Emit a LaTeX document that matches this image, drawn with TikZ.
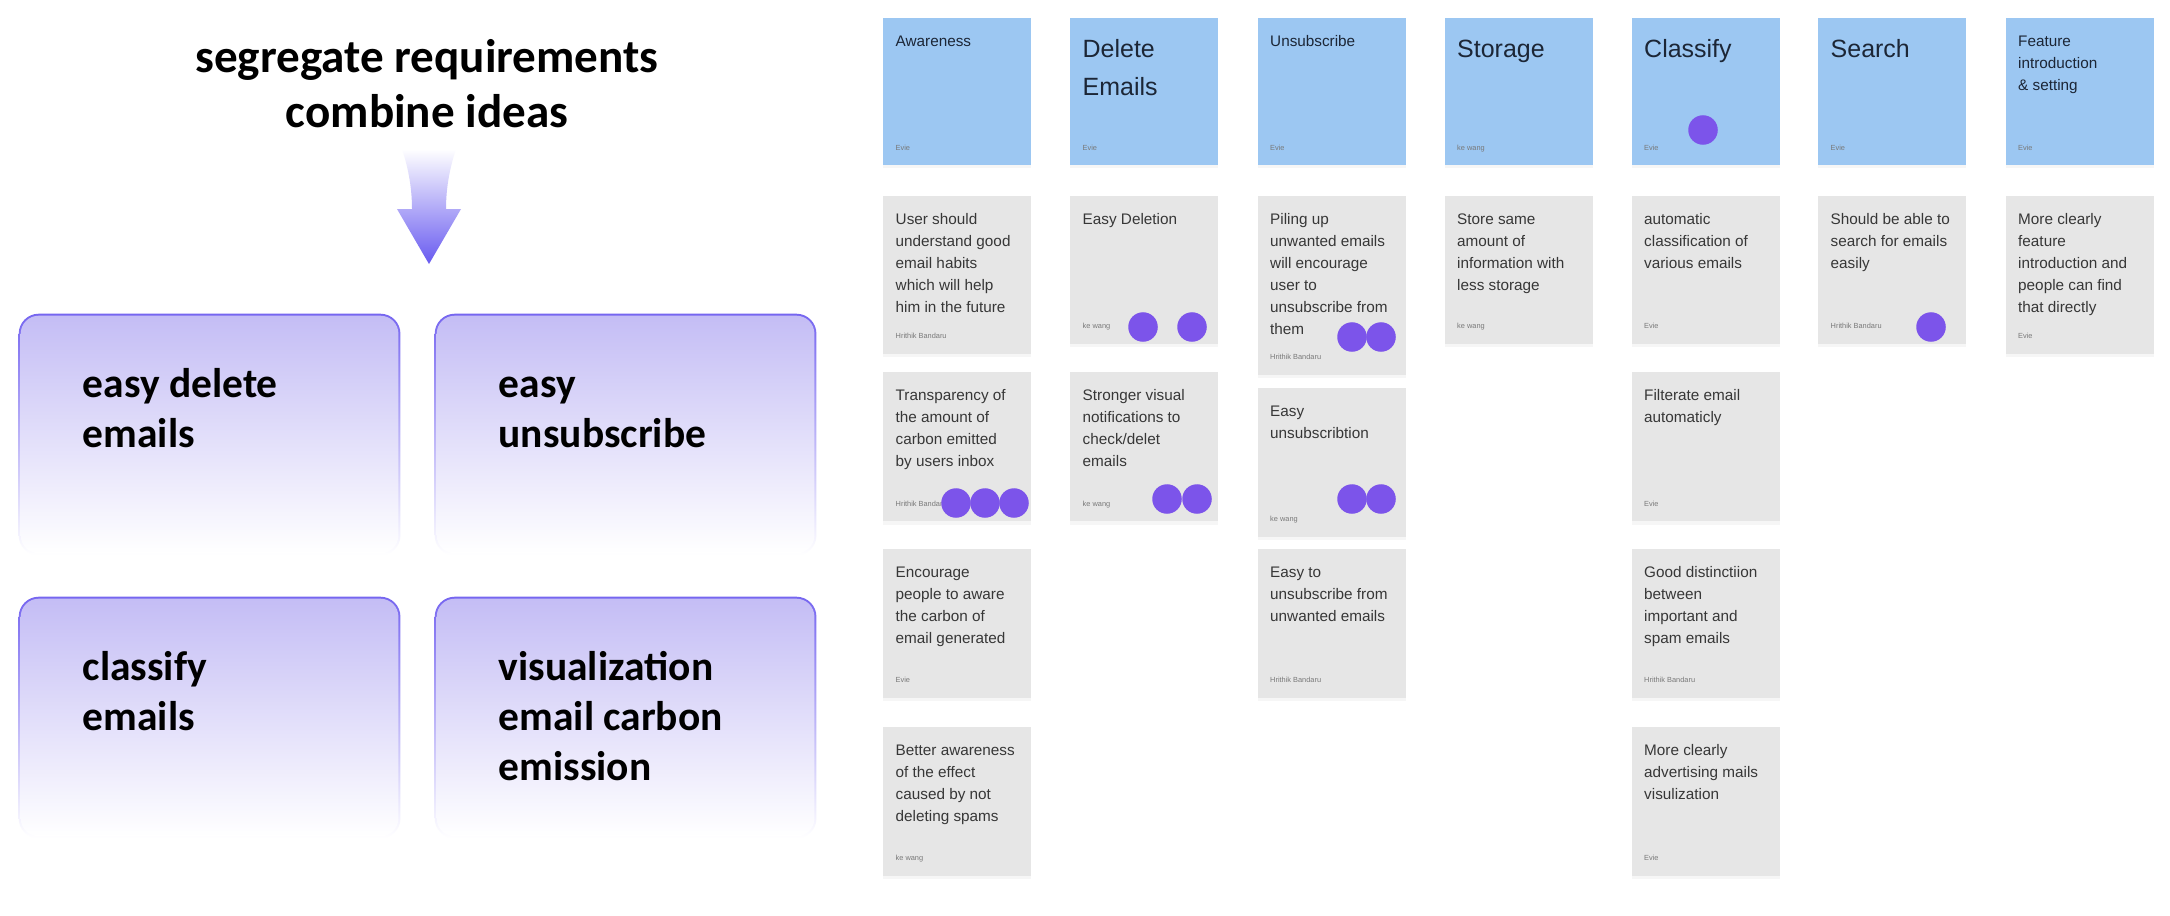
\documentclass[tikz,border=0pt]{standalone}
\usepackage{fontspec}
\setmainfont{Carlito}
\newfontfamily\notefont{Liberation Sans}
\usetikzlibrary{positioning,shadows}

\definecolor{topicblue}{RGB}{156,199,242}
\definecolor{notegray}{RGB}{230,230,230}
\definecolor{votedot}{RGB}{124,84,234}
\definecolor{idealine}{RGB}{118,102,240}
\definecolor{ideatop}{RGB}{196,189,245}
\definecolor{arrowtip}{RGB}{104,90,240}
\definecolor{notetextc}{RGB}{55,55,55}
\definecolor{topictextc}{RGB}{28,38,54}
\definecolor{authorc}{RGB}{120,120,120}

\tikzset{
  note/.style={rectangle, anchor=north west, fill=notegray, minimum width=1.48cm, inner sep=0,
    drop shadow={shadow xshift=0pt, shadow yshift=-1pt, opacity=0.07}},
  topic/.style={note, fill=topicblue, minimum height=1.47cm},
  notetext/.style={anchor=north west, inner sep=0, align=left, text=notetextc,
    font=\notefont\fontsize{4.35}{6.26}\selectfont},
  bigtext/.style={notetext, text=topictextc, font=\notefont\fontsize{7.1}{10.8}\selectfont},
  smalltopic/.style={notetext, text=topictextc},
  author/.style={anchor=base west, inner sep=0, text=authorc, font=\notefont\fontsize{2.1}{2.6}\selectfont},
  dot/.style={circle, fill=votedot, minimum size=0.295cm, inner sep=0},
  ideaframe/.style={rectangle, rounded corners=0.2cm, top color=idealine, bottom color=white,
    minimum width=3.815cm, minimum height=2.415cm, anchor=north west},
  ideafill/.style={rectangle, rounded corners=0.18cm, top color=ideatop, bottom color=white,
    minimum width=3.775cm, minimum height=2.375cm},
  ideatext/.style={anchor=north west, inner sep=0, align=left, font=\bfseries\fontsize{11.8}{14.2}\selectfont},
}

% topic card: name, left, text style, text, author
\newcommand{\topicnote}[5]{%
  \node[topic] (#1) at (#2,17) {};
  \node[#3] (#1t) at ([shift={(12.5,13.6)}]#1.north west) {\strut #4};
  \node[author] (#1a) at ([shift={(12.5,-15)}]#1.south west) {#5};
}
% idea card: name, left, top, height, text, author
\newcommand{\stickynote}[6]{%
  \node[note, minimum height=#4cm] (#1) at (#2,#3) {};
  \node[notetext] (#1t) at ([shift={(12.5,13.6)}]#1.north west) {\strut #5};
  \node[author] (#1a) at ([shift={(12.5,-16)}]#1.south west) {#6};
}
% grouped box: name, left, top, text
\newcommand{\ideabox}[4]{%
  \node[ideaframe] (#1) at (#2,#3) {};
  \node[ideafill] (#1f) at (#1.center) {};
  \node[ideatext] (#1t) at ([shift={(64,49)}]#1.north west) {\strut #4};
}

\begin{document}
\begin{tikzpicture}[x=0.01cm, y=-0.01cm]
  \fill[white] (0,0) rectangle (2170,915);
  \useasboundingbox (0,0) rectangle (2170,915);

  % left half
  \node[font=\bfseries\fontsize{13.4}{15.65}\selectfont, align=center, anchor=north, inner sep=0] (title)
    at (427,33.5) {\strut segregate requirements\\combine ideas};
  \shade[top color=white, bottom color=arrowtip] (402,149) .. controls (409,170) and (412,190) .. (412,209)
    -- (397,209) -- (429,264) -- (461,209) -- (446,209) .. controls (446,190) and (449,170) .. (456,149) -- cycle;

  \ideabox{easydel}{18}{313}{easy delete\\emails}
  \ideabox{easyunsub}{434}{313}{easy\\unsubscribe}
  \ideabox{classify}{18}{596}{classify\\emails}
  \ideabox{visual}{434}{596}{visualization\\email carbon\\emission}

  % topics
  \topicnote{aware}{882.5}{smalltopic}{Awareness}{Evie}
  \topicnote{delete}{1069.5}{bigtext}{Delete\\Emails}{Evie}
  \topicnote{unsub}{1257}{smalltopic}{Unsubscribe}{Evie}
  \topicnote{store}{1444}{bigtext}{Storage}{ke wang}
  \topicnote{class}{1631}{bigtext}{Classify}{Evie}
  \topicnote{search}{1817.5}{bigtext}{Search}{Evie}
  \topicnote{feat}{2005}{smalltopic}{Feature\\introduction\\\& setting}{Evie}

  % notes
  \stickynote{aware1}{882.5}{195}{1.58}{User should\\understand good\\email habits\\which will help\\him in the future}{Hrithik Bandaru}
  \stickynote{aware2}{882.5}{371}{1.495}{Transparency of\\the amount of\\carbon emitted\\by users inbox}{Hrithik Bandaru}
  \stickynote{aware3}{882.5}{548}{1.49}{Encourage\\people to aware\\the carbon of\\email generated}{Evie}
  \stickynote{aware4}{882.5}{726}{1.49}{Better awareness\\of the effect\\caused by not\\deleting spams}{ke wang}
  \stickynote{delete1}{1069.5}{195}{1.48}{Easy Deletion}{ke wang}
  \stickynote{delete2}{1069.5}{371}{1.495}{Stronger visual\\notifications to\\check/delet\\emails}{ke wang}
  \stickynote{unsub1}{1257}{195}{1.79}{Piling up\\unwanted emails\\will encourage\\user to\\unsubscribe from\\them}{Hrithik Bandaru}
  \stickynote{unsub2}{1257}{387}{1.49}{Easy\\unsubscribtion}{ke wang}
  \stickynote{unsub3}{1257}{548}{1.49}{Easy to\\unsubscribe from\\unwanted emails}{Hrithik Bandaru}
  \stickynote{store1}{1444}{195}{1.48}{Store same\\amount of\\information with\\less storage}{ke wang}
  \stickynote{class1}{1631}{195}{1.48}{automatic\\classification of\\various emails}{Evie}
  \stickynote{class2}{1631}{371}{1.495}{Filterate email\\automaticly}{Evie}
  \stickynote{class3}{1631}{548}{1.49}{Good distinctiion\\between\\important and\\spam emails}{Hrithik Bandaru}
  \stickynote{class4}{1631}{726}{1.49}{More clearly\\advertising mails\\visulization}{Evie}
  \stickynote{search1}{1817.5}{195}{1.48}{Should be able to\\search for emails\\easily}{Hrithik Bandaru}
  \stickynote{feat1}{2005}{195}{1.58}{More clearly\\feature\\introduction and\\people can find\\that directly}{Evie}

  % votes
  \node[dot] (v1) at (1703,130) {};
  \node[dot] (v2) at (1143,327) {};
  \node[dot] (v3) at (1192,327) {};
  \node[dot] (v4) at (1352,337) {};
  \node[dot] (v5) at (1381,337) {};
  \node[dot] (v6) at (956,503) {};
  \node[dot] (v7) at (985,503) {};
  \node[dot] (v8) at (1014,503) {};
  \node[dot] (v9) at (1167,499) {};
  \node[dot] (v10) at (1197,499) {};
  \node[dot] (v11) at (1352,499) {};
  \node[dot] (v12) at (1381,499) {};
  \node[dot] (v13) at (1931,327) {};
\end{tikzpicture}
\end{document}
